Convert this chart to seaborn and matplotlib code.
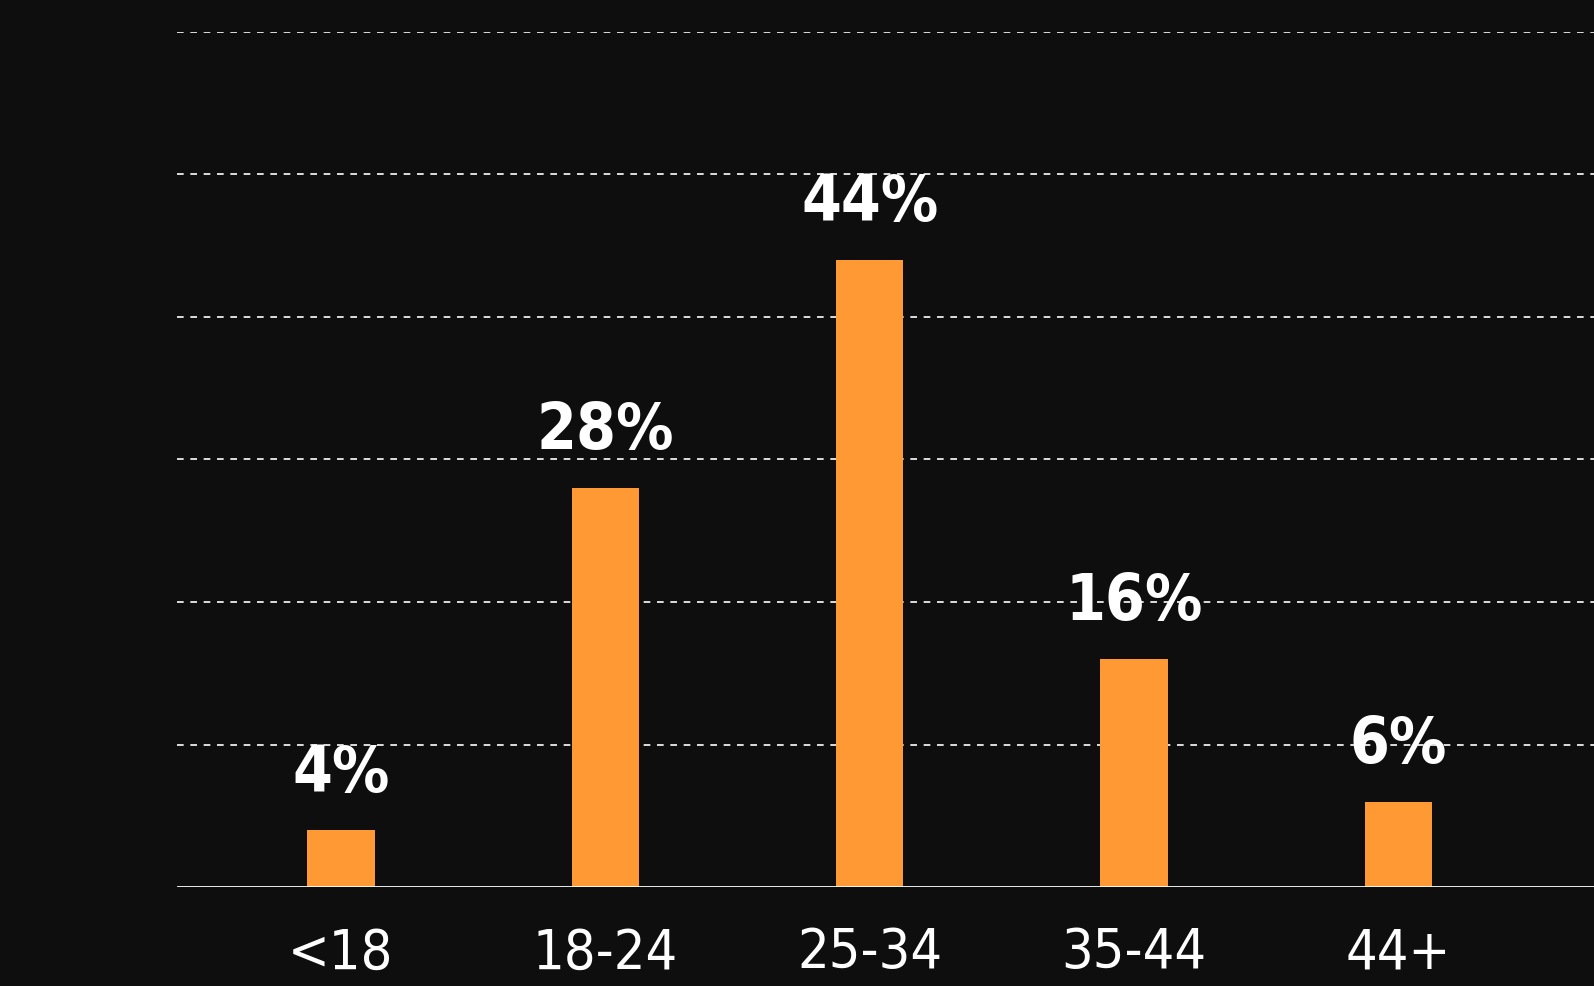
import matplotlib
matplotlib.use("Agg")
import matplotlib.pyplot as plt
import seaborn as sns
import pandas as pd

categories = ["<18", "18-24", "25-34", "35-44", "44+"]
values = [4, 28, 44, 16, 6]
labels = ["4%", "28%", "44%", "16%", "6%"]
yticks = [0, 10, 20, 30, 40, 50, 60]

sns.set_style("dark")
plt.rcParams['font.family'] = ['DejaVu Sans']
plt.rcParams['font.stretch'] = 'condensed'
bg = "#0e0e0e"
fig = plt.figure(figsize=(15.94, 9.86), dpi=100, facecolor=bg)
ax = fig.add_axes([0.111, 0.1, 0.889, 0.868], facecolor=bg)
df = pd.DataFrame({"cat": categories, "val": values})
sns.barplot(data=df, x="cat", y="val", color="#ff9933", saturation=1, width=0.255,
            linewidth=0, ax=ax)
ax.set_xlim(-0.62, 4.74)
ax.set_ylim(0, 60)
ax.set_yticks(yticks)
for y in yticks[1:]:
    ax.axhline(y, color="white", ls=(0, (4, 4)), lw=1.2, zorder=0)
ax.axhline(0, color="white", lw=2)
for s in ax.spines.values():
    s.set_visible(False)
ax.grid(False)
ax.set_xlabel(""); ax.set_ylabel("")
ax.tick_params(axis="both", length=0, colors="white", labelsize=40)
ax.tick_params(axis="y", pad=180)
ax.tick_params(axis="x", pad=28)
for lab in ax.get_yticklabels():
    lab.set_horizontalalignment("left")
for i, (v, t) in enumerate(zip(values, labels)):
    ax.text(i, v + 1.8, t, ha="center", va="bottom", color="white", fontsize=46,
            fontweight="bold")
fig.savefig("out.png", dpi=100, facecolor=bg)
